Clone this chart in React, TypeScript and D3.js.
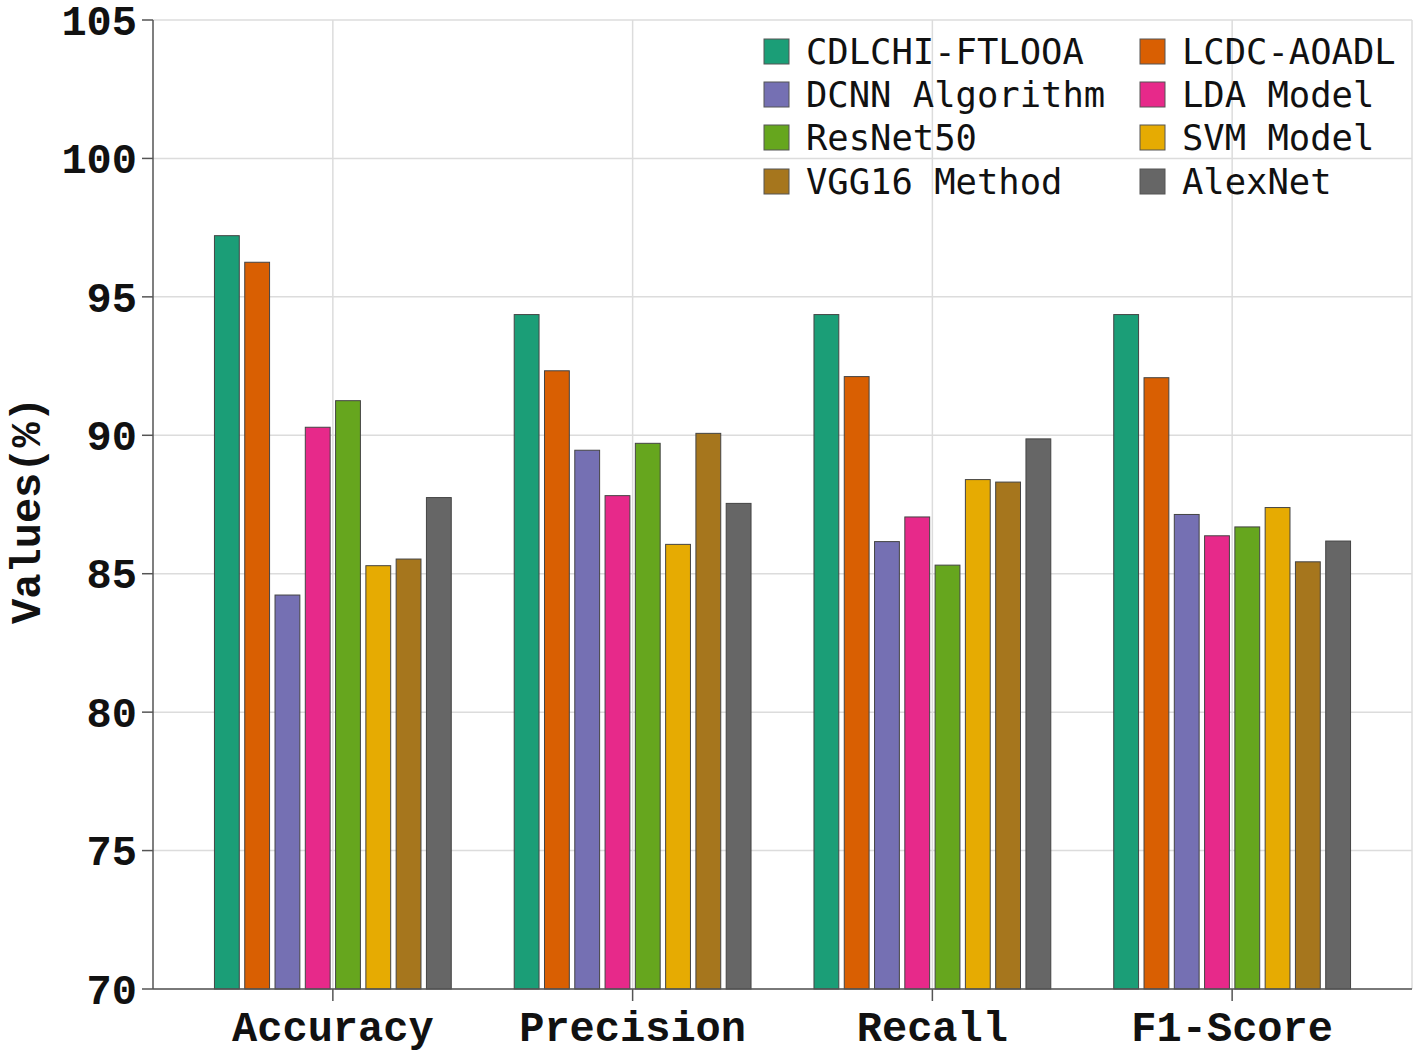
import React, { useEffect, useRef } from 'react';
import * as d3 from 'd3';

const categories = ['Accuracy', 'Precision', 'Recall', 'F1-Score'];
const methods = [
  'CDLCHI-FTLOOA', 'LCDC-AOADL', 'DCNN Algorithm', 'LDA Model',
  'ResNet50', 'SVM Model', 'VGG16 Method', 'AlexNet',
];
const colors = ['#1b9e77', '#d95f02', '#7570b3', '#e7298a', '#66a61e', '#e6ab02', '#a6761d', '#666666'];

// values per method, in category order
const cdlchi = [97.21, 94.36, 94.36, 94.36];
const lcdc = [96.25, 92.33, 92.12, 92.08];
const dcnn = [84.23, 89.46, 86.16, 87.14];
const lda = [90.29, 87.82, 87.05, 86.37];
const resnet = [91.25, 89.71, 85.31, 86.69];
const svm = [85.29, 86.06, 88.4, 87.39];
const vgg = [85.53, 90.07, 88.31, 85.43];
const alexnet = [87.75, 87.54, 89.87, 86.18];
const series = [cdlchi, lcdc, dcnn, lda, resnet, svm, vgg, alexnet];

const yTicks = [70, 75, 80, 85, 90, 95, 100, 105];

const App: React.FC = () => {
  const svgRef = useRef<SVGSVGElement | null>(null);

  useEffect(() => {
    if (svgRef.current == null) return;
    const width = 1417;
    const height = 1054;
    const left = 153;
    const right = 1412;
    const top = 20;
    const bottom = 989;

    const svg = d3.select(svgRef.current);
    svg.selectAll('*').remove();
    svg.attr('width', width).attr('height', height);

    // category axis spans [-0.6, 3.6] like a plotly range
    const step = (right - left) / 4.2;
    const xc = (i: number) => left + step * (i + 0.6);
    const y = d3.scaleLinear().domain([70, 105]).range([bottom, top]);

    const grid = svg.append('g').attr('stroke', '#dcdcdc').attr('stroke-width', 1.5);
    yTicks.forEach(t => {
      grid.append('line').attr('x1', left).attr('x2', right).attr('y1', y(t)).attr('y2', y(t));
    });
    categories.forEach((_, i) => {
      grid.append('line').attr('x1', xc(i)).attr('x2', xc(i)).attr('y1', top).attr('y2', bottom);
    });
    grid.append('line').attr('x1', right).attr('x2', right).attr('y1', top).attr('y2', bottom);

    const inner = d3.scaleBand<number>()
      .domain(d3.range(methods.length))
      .range([-step * 0.395, step * 0.395])
      .paddingInner(0.18);

    series.forEach((vals, s) => {
      svg.append('g').selectAll('rect')
        .data(vals)
        .join('rect')
        .attr('x', (_, i) => xc(i) + (inner(s) as number))
        .attr('width', inner.bandwidth())
        .attr('y', d => y(d))
        .attr('height', d => bottom - y(d))
        .attr('fill', colors[s])
        .attr('stroke', '#444')
        .attr('stroke-width', 1);
    });

    // axes
    const axes = svg.append('g').attr('stroke', '#555').attr('stroke-width', 1.5);
    axes.append('line').attr('x1', left).attr('x2', left).attr('y1', top).attr('y2', bottom);
    axes.append('line').attr('x1', left).attr('x2', right).attr('y1', bottom).attr('y2', bottom);
    yTicks.forEach(t => {
      axes.append('line').attr('x1', left - 11).attr('x2', left).attr('y1', y(t)).attr('y2', y(t));
    });
    categories.forEach((_, i) => {
      axes.append('line').attr('x1', xc(i)).attr('x2', xc(i)).attr('y1', bottom).attr('y2', bottom + 12);
    });

    const tickFont = '"Liberation Mono", "DejaVu Sans Mono", monospace';
    svg.append('g').selectAll('text')
      .data(yTicks)
      .join('text')
      .attr('x', left - 16)
      .attr('y', d => y(d))
      .attr('dy', '0.35em')
      .attr('text-anchor', 'end')
      .attr('font-family', tickFont)
      .attr('font-weight', 'bold')
      .attr('font-size', 42)
      .attr('fill', '#111')
      .text(d => d);

    svg.append('g').selectAll('text')
      .data(categories)
      .join('text')
      .attr('x', (_, i) => xc(i))
      .attr('y', 1041)
      .attr('text-anchor', 'middle')
      .attr('font-family', tickFont)
      .attr('font-weight', 'bold')
      .attr('font-size', 42)
      .attr('fill', '#111')
      .text(d => d);

    svg.append('text')
      .attr('transform', `translate(40,${(top + bottom) / 2 + 6}) rotate(-90)`)
      .attr('text-anchor', 'middle')
      .attr('font-family', tickFont)
      .attr('font-weight', 'bold')
      .attr('font-size', 42)
      .attr('fill', '#111')
      .text('Values(%)');

    // legend, two columns
    const legend = svg.append('g');
    const colX = [764, 1140];
    const rowY = [51, 94, 137, 181];
    methods.forEach((m, i) => {
      const cx = colX[i % 2];
      const cy = rowY[Math.floor(i / 2)];
      legend.append('rect')
        .attr('x', cx).attr('y', cy - 12)
        .attr('width', 25).attr('height', 25)
        .attr('fill', colors[i])
        .attr('stroke', '#555')
        .attr('stroke-width', 1);
      legend.append('text')
        .attr('x', cx + 42).attr('y', cy)
        .attr('dy', '0.36em')
        .attr('font-family', '"DejaVu Sans Mono", monospace')
        .attr('font-size', 35.5)
        .attr('fill', '#111')
        .text(m);
    });
  }, []);

  return <svg ref={svgRef} style={{ position: 'absolute', left: 0, top: 0 }}></svg>;
};

export default App;
